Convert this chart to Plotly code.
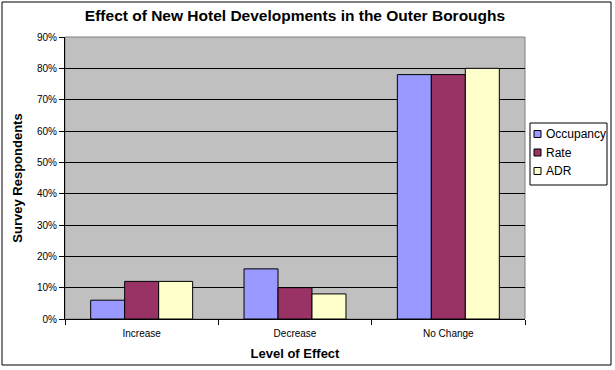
import plotly.graph_objects as go

categories = ["Increase", "Decrease", "No Change"]
occupancy = [0.06, 0.16, 0.78]
rate = [0.12, 0.10, 0.78]
adr = [0.12, 0.08, 0.80]
y_ticks = [0, 0.1, 0.2, 0.3, 0.4, 0.5, 0.6, 0.7, 0.8, 0.9]
series = [("Occupancy", occupancy, "#9999FF"),
          ("Rate", rate, "#993366"),
          ("ADR", adr, "#FFFFCC")]

L, R, T, B = 65, 90, 37, 51
W, H = 615, 370
pw, ph = W - L - R, H - T - B


def px(x):
    return (x - L) / pw


def py(y):
    return (H - B - y) / ph


fig = go.Figure()
for name, vals, col in series:
    fig.add_trace(go.Bar(x=categories, y=vals, name=name,
                         marker=dict(color=col, line=dict(color="black", width=1))))

fig.update_layout(
    width=W, height=H,
    margin=dict(l=L, r=R, t=T, b=B, autoexpand=False),
    paper_bgcolor="white", plot_bgcolor="#C0C0C0",
    barmode="group", bargap=0.335, bargroupgap=0,
    font=dict(family="Arial, Liberation Sans", color="black"),
    title=dict(text="<b>Effect of New Hotel Developments in the Outer Boroughs</b>",
               x=(L + pw / 2) / W, xanchor="center", y=1 - 16 / H, yanchor="middle",
               font=dict(size=15.5, family="Arial, Liberation Sans")),
    showlegend=False,
)
fig.update_xaxes(
    showline=True, linecolor="black", linewidth=1, mirror=False,
    ticks="outside", tickson="boundaries", ticklen=5, tickcolor="black",
    tickfont=dict(size=10), ticklabelstandoff=5,
    title=dict(text="<b>Level of Effect</b>", font=dict(size=13), standoff=10),
)
fig.update_yaxes(
    range=[0, 0.9], tickvals=y_ticks, tickformat=".0%",
    showline=True, linecolor="black", linewidth=1,
    ticks="outside", ticklen=5, tickcolor="black",
    showgrid=True, gridcolor="black", gridwidth=1,
    tickfont=dict(size=10), zeroline=False,
    title=dict(text="<b>Survey Respondents</b>", font=dict(size=13), standoff=11),
)
# plot area border
fig.add_shape(type="rect", xref="paper", yref="paper", x0=0, x1=1, y0=0, y1=1,
              line=dict(color="#808080", width=1), layer="below")
# outer chart frame
fig.add_shape(type="rect", xref="paper", yref="paper",
              x0=px(2), x1=px(611), y0=py(365), y1=py(2),
              line=dict(color="black", width=1))
# custom legend
fig.add_shape(type="rect", xref="paper", yref="paper",
              x0=px(530), x1=px(607), y0=py(185), y1=py(123),
              line=dict(color="black", width=1), fillcolor="white")
for i, (name, vals, col) in enumerate(series):
    yc = 134 + i * 18.5
    fig.add_shape(type="rect", xref="paper", yref="paper",
                  x0=px(534), x1=px(541), y0=py(yc + 3.5), y1=py(yc - 3.5),
                  line=dict(color="black", width=1), fillcolor=col)
    fig.add_annotation(text=name, xref="paper", yref="paper", x=px(544), y=py(yc),
                       xanchor="left", yanchor="middle", showarrow=False,
                       font=dict(size=12))
fig.write_html("out.html", config={"displayModeBar": False},
               post_script="document.body.style.margin='0';document.body.style.overflow='hidden';")
